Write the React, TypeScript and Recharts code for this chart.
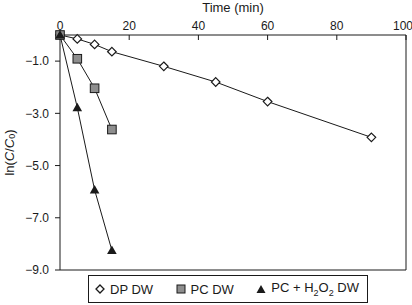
import { LineChart, Line, XAxis, YAxis, ReferenceLine, Legend } from "recharts";

const dpTime = [0, 5, 10, 15, 30, 45, 60, 90];
const dpLn = [0, -0.15, -0.36, -0.64, -1.2, -1.8, -2.55, -3.92];

const pcTime = [0, 5, 10, 15];
const pcLn = [0, -0.91, -2.04, -3.62];

const pcH2o2Time = [0, 5, 10, 15];
const pcH2o2Ln = [0, -2.78, -5.93, -8.25];

const xTicks = [0, 20, 40, 60, 80, 100];
const yTicks = [-1, -3, -5, -7, -9];

const FONT = '"Liberation Sans", Arial, Helvetica, sans-serif';
const INK = "#1a1a1a";
const GREY = "#8e8e8e";

const toPoints = (xs: number[], ys: number[]) => xs.map((x, i) => ({ x, y: ys[i] }));

const dpData = toPoints(dpTime, dpLn);
const pcData = toPoints(pcTime, pcLn);
const pcH2o2Data = toPoints(pcH2o2Time, pcH2o2Ln);

function Diamond({ cx, cy }: any) {
  if (cx == null || cy == null) return null;
  const r = 4.3;
  return (
    <path
      d={`M${cx},${cy - r} L${cx + r},${cy} L${cx},${cy + r} L${cx - r},${cy} Z`}
      fill="#fff"
      stroke={INK}
      strokeWidth={1.2}
    />
  );
}

function Square({ cx, cy }: any) {
  if (cx == null || cy == null) return null;
  const r = 4.3;
  return <rect x={cx - r} y={cy - r} width={r * 2} height={r * 2} fill={GREY} stroke={INK} strokeWidth={1} />;
}

function Triangle({ cx, cy }: any) {
  if (cx == null || cy == null) return null;
  const r = 4.8;
  return <path d={`M${cx},${cy - r} L${cx + r},${cy + r * 0.75} L${cx - r},${cy + r * 0.75} Z`} fill={INK} />;
}

function YTitle({ viewBox }: any) {
  const cx = 9;
  const cy = viewBox ? viewBox.y + viewBox.height / 2 : 153;
  return (
    <text
      transform={`translate(${cx},${cy}) rotate(-90)`}
      textAnchor="middle"
      dominantBaseline="central"
      fontSize={13}
      fontFamily={FONT}
      fill={INK}
    >
      ln(<tspan fontStyle="italic">C</tspan>/<tspan fontStyle="italic">C</tspan>
      <tspan fontSize={9} dy={3}>0</tspan>
      <tspan dy={-3}>)</tspan>
    </text>
  );
}

function LegendBox() {
  const item = { display: "flex", alignItems: "center", gap: 5 } as const;
  return (
    <div
      style={{
        width: 280,
        height: 28,
        boxSizing: "border-box",
        border: `1px solid ${INK}`,
        display: "flex",
        alignItems: "center",
        justifyContent: "space-between",
        padding: "0 8px 0 6px",
        fontFamily: FONT,
        fontSize: 13,
        color: INK,
      }}
    >
      <span style={item}>
        <svg width={10} height={10}>
          <path d="M5,1 L9,5 L5,9 L1,5 Z" fill="#fff" stroke={INK} strokeWidth={1.3} />
        </svg>
        DP DW
      </span>
      <span style={item}>
        <svg width={10} height={10}>
          <rect x={1} y={1} width={8} height={8} fill={GREY} stroke={INK} strokeWidth={1} />
        </svg>
        PC DW
      </span>
      <span style={item}>
        <svg width={10} height={10}>
          <path d="M5,1 L9.5,9 L0.5,9 Z" fill={INK} />
        </svg>
        <span>
          PC + H<sub style={{ fontSize: 9 }}>2</sub>O<sub style={{ fontSize: 9 }}>2</sub> DW
        </span>
      </span>
    </div>
  );
}

export default function App() {
  return (
    <div style={{ position: "absolute", left: 0, top: 0, width: 412, height: 305, background: "#fff" }}>
      <LineChart width={412} height={305} margin={{ top: 0, right: 6, bottom: 35, left: 0 }}>
        <XAxis
          type="number"
          dataKey="x"
          orientation="top"
          domain={[0, 100]}
          ticks={xTicks}
          height={35}
          stroke={INK}
          tickSize={-5}
          tickMargin={10}
          tick={{ fontSize: 12, fontFamily: FONT, fill: INK }}
          label={{ value: "Time (min)", position: "insideTop", offset: 3, fontSize: 13, fontFamily: FONT, fill: INK }}
          allowDuplicatedCategory={false}
        />
        <YAxis
          type="number"
          dataKey="y"
          domain={[-9, 0]}
          ticks={yTicks}
          width={60}
          stroke={INK}
          tickSize={5}
          tickMargin={6}
          tickFormatter={(v: number) => v.toFixed(1).replace("-", "\u2212")}
          tick={{ fontSize: 12, fontFamily: FONT, fill: INK }}
          label={<YTitle />}
        />
        <ReferenceLine x={100} stroke={INK} />
        <ReferenceLine y={-9} stroke={INK} />
        <Line
          data={dpData}
          dataKey="y"
          stroke={INK}
          strokeWidth={1}
          dot={<Diamond />}
          isAnimationActive={false}
        />
        <Line
          data={pcData}
          dataKey="y"
          stroke={INK}
          strokeWidth={1}
          dot={<Square />}
          isAnimationActive={false}
        />
        <Line
          data={pcH2o2Data}
          dataKey="y"
          stroke={INK}
          strokeWidth={1}
          dot={<Triangle />}
          isAnimationActive={false}
        />
        <Legend
          layout="horizontal"
          verticalAlign="middle"
          align="center"
          content={<LegendBox />}
          wrapperStyle={{ left: 88, top: 275, width: 280, height: 28 }}
        />
      </LineChart>
    </div>
  );
}
